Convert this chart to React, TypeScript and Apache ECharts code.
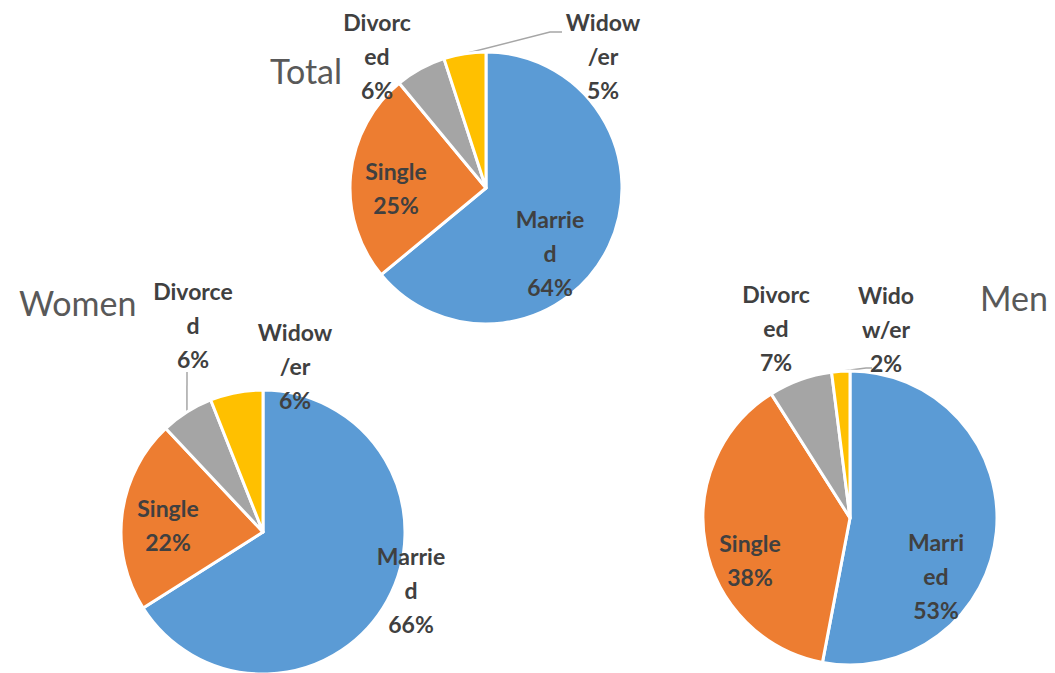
import React, { useEffect, useRef } from "react";
import * as echarts from "echarts";

const categories = ["Married", "Single", "Divorced", "Widow/er"];
const colors = ["#5B9BD5", "#ED7D31", "#A5A5A5", "#FFC000"];

const totalValues = [64, 25, 6, 5];
const womenValues = [66, 22, 6, 6];
const menValues = [53, 38, 7, 2];

// wrapped label names as displayed in the reference
const totalLabelNames = ["Marrie\nd", "Single", "Divorc\ned", "Widow\n/er"];
const womenLabelNames = ["Marrie\nd", "Single", "Divorce\nd", "Widow\n/er"];
const menLabelNames = ["Marri\ned", "Single", "Divorc\ned", "Wido\nw/er"];

const pieTitles = ["Total", "Women", "Men"];

// layout constants
const pieLayouts = [
  { center: [486, 188], radius: 136, title: [270, 53] },
  { center: [263, 532], radius: 142, title: [19, 285] },
  { center: [850, 518], radius: 147, title: [980, 280] },
];
const labelPositions = [
  [[550, 253], [396, 188], [377, 56], [603, 56]],
  [[411, 590], [168, 525], [193, 325], [295, 366]],
  [[936, 576], [750, 560], [776, 328], [886, 329]],
];
// leader line elbow/end offsets relative to label centre (null = no line)
const leaderOffsets: (number[][] | null)[][] = [
  [null, null, null, [[-53, -24], [-41, -24]]],
  [null, null, [[-6, 47], [-6, 47]], null],
  [null, null, null, [[-20, 39], [-14, 39]]],
];

const FONT = "Lato, 'Open Sans', sans-serif";

export default function App() {
  const ref = useRef<HTMLDivElement>(null);
  useEffect(() => {
    document.body.style.margin = "0";
    const chart = echarts.init(ref.current!, null, { renderer: "svg" });
    const valueSets = [totalValues, womenValues, menValues];
    const nameSets = [totalLabelNames, womenLabelNames, menLabelNames];
    const series = valueSets.map((vals, si) => ({
      type: "pie",
      center: pieLayouts[si].center,
      radius: pieLayouts[si].radius,
      startAngle: 90,
      clockwise: true,
      avoidLabelOverlap: false,
      itemStyle: { borderColor: "#ffffff", borderWidth: 3 },
      label: {
        show: true,
        fontFamily: FONT,
        fontSize: 23,
        fontWeight: "bold",
        color: "#404040",
        lineHeight: 34,
        align: "center",
      },
      labelLine: {
        show: true,
        length: 10,
        length2: 10,
        smooth: false,
        lineStyle: { color: "#A6A6A6", width: 1.5 },
      },
      labelLayout: (p: any) => {
        const pos = labelPositions[si][p.dataIndex];
        const off = leaderOffsets[si][p.dataIndex];
        const out: any = { x: pos[0], y: pos[1], align: "center", verticalAlign: "middle" };
        if (off && p.labelLinePoints && p.labelLinePoints[0]) {
          const s = p.labelLinePoints[0];
          out.labelLinePoints = [
            [s[0], s[1]],
            [pos[0] + off[0][0], pos[1] + off[0][1]],
            [pos[0] + off[1][0], pos[1] + off[1][1]],
          ];
        }
        return out;
      },
      data: vals.map((v, i) => ({
        name: categories[i],
        value: v,
        itemStyle: { color: colors[i] },
        label: {
          position: leaderOffsets[si][i] ? "outside" : "inside",
          formatter: `${nameSets[si][i]}\n${v}%`,
        },
        labelLine: { show: !!leaderOffsets[si][i] },
      })),
    }));
    chart.setOption({
      animation: false,
      backgroundColor: "#ffffff",
      title: pieTitles.map((t, i) => ({
        text: t,
        left: pieLayouts[i].title[0],
        top: pieLayouts[i].title[1],
        padding: 0,
        textStyle: {
          fontFamily: FONT,
          fontSize: 34,
          fontWeight: "normal",
          color: "#595959",
        },
      })),
      series,
    });
    return () => chart.dispose();
  }, []);
  return (
    <div
      ref={ref}
      style={{ position: "absolute", left: 0, top: 0, width: 1055, height: 673 }}
    />
  );
}
